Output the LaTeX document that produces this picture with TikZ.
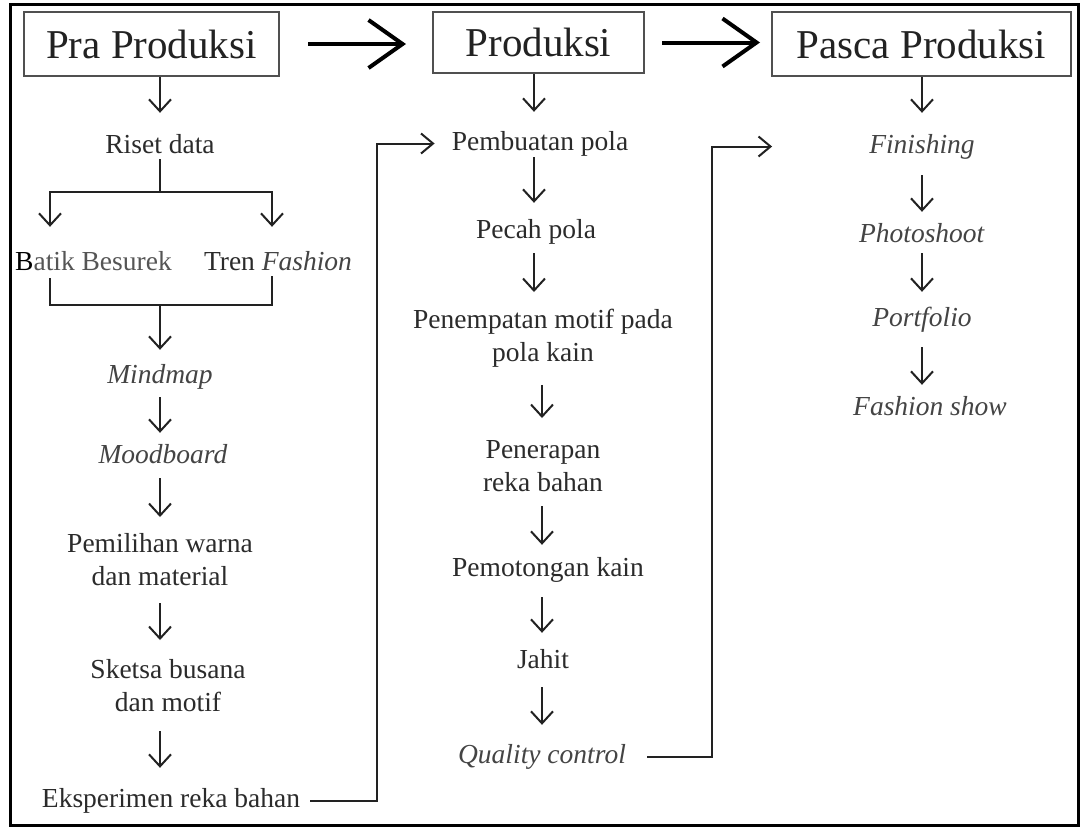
\documentclass[tikz,border=0pt]{standalone}
\usepackage{fontspec}
\setmainfont{Liberation Serif}
\usetikzlibrary{arrows.meta,calc}
\definecolor{ink}{HTML}{222222}
\definecolor{txt}{HTML}{2B2B2B}
\definecolor{itx}{HTML}{444444}
\definecolor{gtx}{HTML}{555555}
\definecolor{boxc}{HTML}{505050}
\newcommand{\stt}{\rule[-6pt]{0pt}{25pt}}
\begin{document}
\begin{tikzpicture}[x=1pt,y=-1pt,
  hbox/.style={draw=boxc, line width=2pt, inner sep=0pt, font=\fontsize{41}{48}\selectfont, text=ink},
  lbl/.style={inner sep=0pt, anchor=base, text height=19pt, text depth=6pt, font=\fontsize{27.5}{33}\selectfont, text=txt},
  mlbl/.style={inner sep=0pt, anchor=north, align=center, font=\fontsize{27.5}{33}\selectfont, text=txt},
  varr/.style={draw=ink, line width=2pt, -{Straight Barb[length=12pt,width=22pt]}},
  conn/.style={draw=ink, line width=2pt},
  farr/.style={draw=ink, line width=2pt, -{Straight Barb[length=12pt,width=20pt]}},
  harr/.style={draw=black, line width=4pt, -{Straight Barb[length=34pt,width=48pt]}},
]
\useasboundingbox (0,0) rectangle (1080,828);
\fill[white] (0,0) rectangle (1080,828);
\draw[line width=3pt, black] (10,4) rectangle (1078,825);

% column coordinates
\coordinate (cA) at (160,0);
\coordinate (cB) at (534,0);
\coordinate (cC) at (542,0);
\coordinate (cD) at (922,0);
\coordinate (r1) at (377,0);
\coordinate (r2) at (712,0);

% headers
\node[hbox, minimum width=255pt, minimum height=64pt] (pra) at (151.5,44) {Pra Produksi};
\node[hbox, minimum width=211pt, minimum height=61pt] (prod) at (538.5,42.5) {Produksi};
\node[hbox, minimum width=299pt, minimum height=64pt] (pasca) at (921.5,44) {Pasca Produksi};

% column 1
\node[lbl] (riset) at (160,153) {Riset data};
\node[lbl, text=gtx] (batik) at (93.5,270) {{\color{black}B}atik Besurek};
\node[lbl] (tren) at (278,270) {Tren \textit{\color{itx}Fashion}};
\node[lbl, text=itx] (mindmap) at (160,383) {\textit{Mindmap}};
\node[lbl, text=itx] (mood) at (163,463) {\textit{Moodboard}};
\node[mlbl] (pemil) at (160,533) {\stt Pemilihan warna\\\stt dan material};
\node[mlbl] (sketsa) at (168,659) {\stt Sketsa busana\\\stt dan motif};
\node[lbl] (eksp) at (171,807) {Eksperimen reka bahan};

% column 2
\node[lbl] (pemb) at (540,150) {Pembuatan pola};
\node[lbl] (pecah) at (536,238) {Pecah pola};
\node[mlbl] (pen) at (543,309) {\stt Penempatan motif pada\\\stt pola kain};
\node[mlbl] (pener) at (543,439) {\stt Penerapan\\\stt reka bahan};
\node[lbl] (pemot) at (548,576) {Pemotongan kain};
\node[lbl] (jahit) at (543,668) {Jahit};
\node[lbl, text=itx] (qual) at (542,763) {\textit{Quality control}};

% column 3
\node[lbl, text=itx] (fin) at (922,153) {\textit{Finishing}};
\node[lbl, text=itx] (photo) at (922,242) {\textit{Photoshoot}};
\node[lbl, text=itx] (port) at (922,326) {\textit{Portfolio}};
\node[lbl, text=itx] (fash) at (930,415) {\textit{Fashion show}};

% header arrows
\draw[harr, shorten <=28pt, shorten >=26pt] (pra.east) -- (pra.east -| prod.west);
\draw[harr, shorten <=17pt, shorten >=11pt] (prod.east) -- (prod.east -| pasca.west);

% column 1 connectors
\draw[varr, shorten >=21pt] (pra.south -| cA) -- (riset.north -| cA);
\coordinate (sL) at (50,192);
\coordinate (sR) at (272,192);
\coordinate (mL) at (50,305);
\coordinate (mR) at (272,305);
\draw[conn] (riset.south) -- (riset.south |- sL);
\draw[varr, shorten >=24pt] (riset.south |- sL) -| (sL |- batik.north);
\draw[varr, shorten >=24pt] (riset.south |- sR) -| (sR |- tren.north);
\draw[conn, shorten <=2pt] (sL |- batik.south) |- (mR) -- (sR |- tren.south);
\draw[varr, shorten >=14pt] (mL -| cA) -- (mindmap.north -| cA);
\draw[varr, shorten <=8pt, shorten >=11pt] (mindmap.south -| cA) -- (mood.north -| cA);
\draw[varr, shorten <=9pt, shorten >=16pt] (mood.south -| cA) -- (pemil.north -| cA);
\draw[varr, shorten <=12pt, shorten >=19pt] (pemil.south -| cA) -- (sketsa.north -| cA);
\draw[varr, shorten <=14pt, shorten >=20pt] (sketsa.south -| cA) -- (eksp.north -| cA);

% column 2 connectors
\draw[varr, shorten >=19pt] (prod.south -| cB) -- (pemb.north -| cB);
\draw[varr, shorten <=1pt, shorten >=16pt] (pemb.south -| cB) -- (pecah.north -| cB);
\draw[varr, shorten <=9pt, shorten >=17pt] (pecah.south -| cB) -- (pen.north -| cB);
\draw[varr, shorten <=17pt, shorten >=21pt] (pen.south -| cC) -- (pener.north -| cC);
\draw[varr, shorten <=9pt, shorten >=12pt] (pener.south -| cC) -- (pemot.north -| cC);
\draw[varr, shorten <=15pt, shorten >=16pt] (pemot.south -| cC) -- (jahit.north -| cC);
\draw[varr, shorten <=13pt, shorten >=19pt] (jahit.south -| cC) -- (qual.north -| cC);

% column 3 connectors
\draw[varr, shorten >=21pt] (pasca.south -| cD) -- (fin.north -| cD);
\draw[varr, shorten <=16pt, shorten >=11pt] (fin.south -| cD) -- (photo.north -| cD);
\draw[varr, shorten <=5pt, shorten >=15pt] (photo.south -| cD) -- (port.north -| cD);
\draw[varr, shorten <=15pt, shorten >=11pt] (port.south -| cD) -- (fash.north -| cD);

% feedback connectors
\draw[farr, shorten >=17pt] ([xshift=10pt]eksp.east) -- (eksp.east -| r1) |- (pemb.west);
\draw[farr, shorten >=97pt] ([xshift=21pt]qual.east) -- (qual.east -| r2) |- (fin.west);
\end{tikzpicture}
\end{document}
